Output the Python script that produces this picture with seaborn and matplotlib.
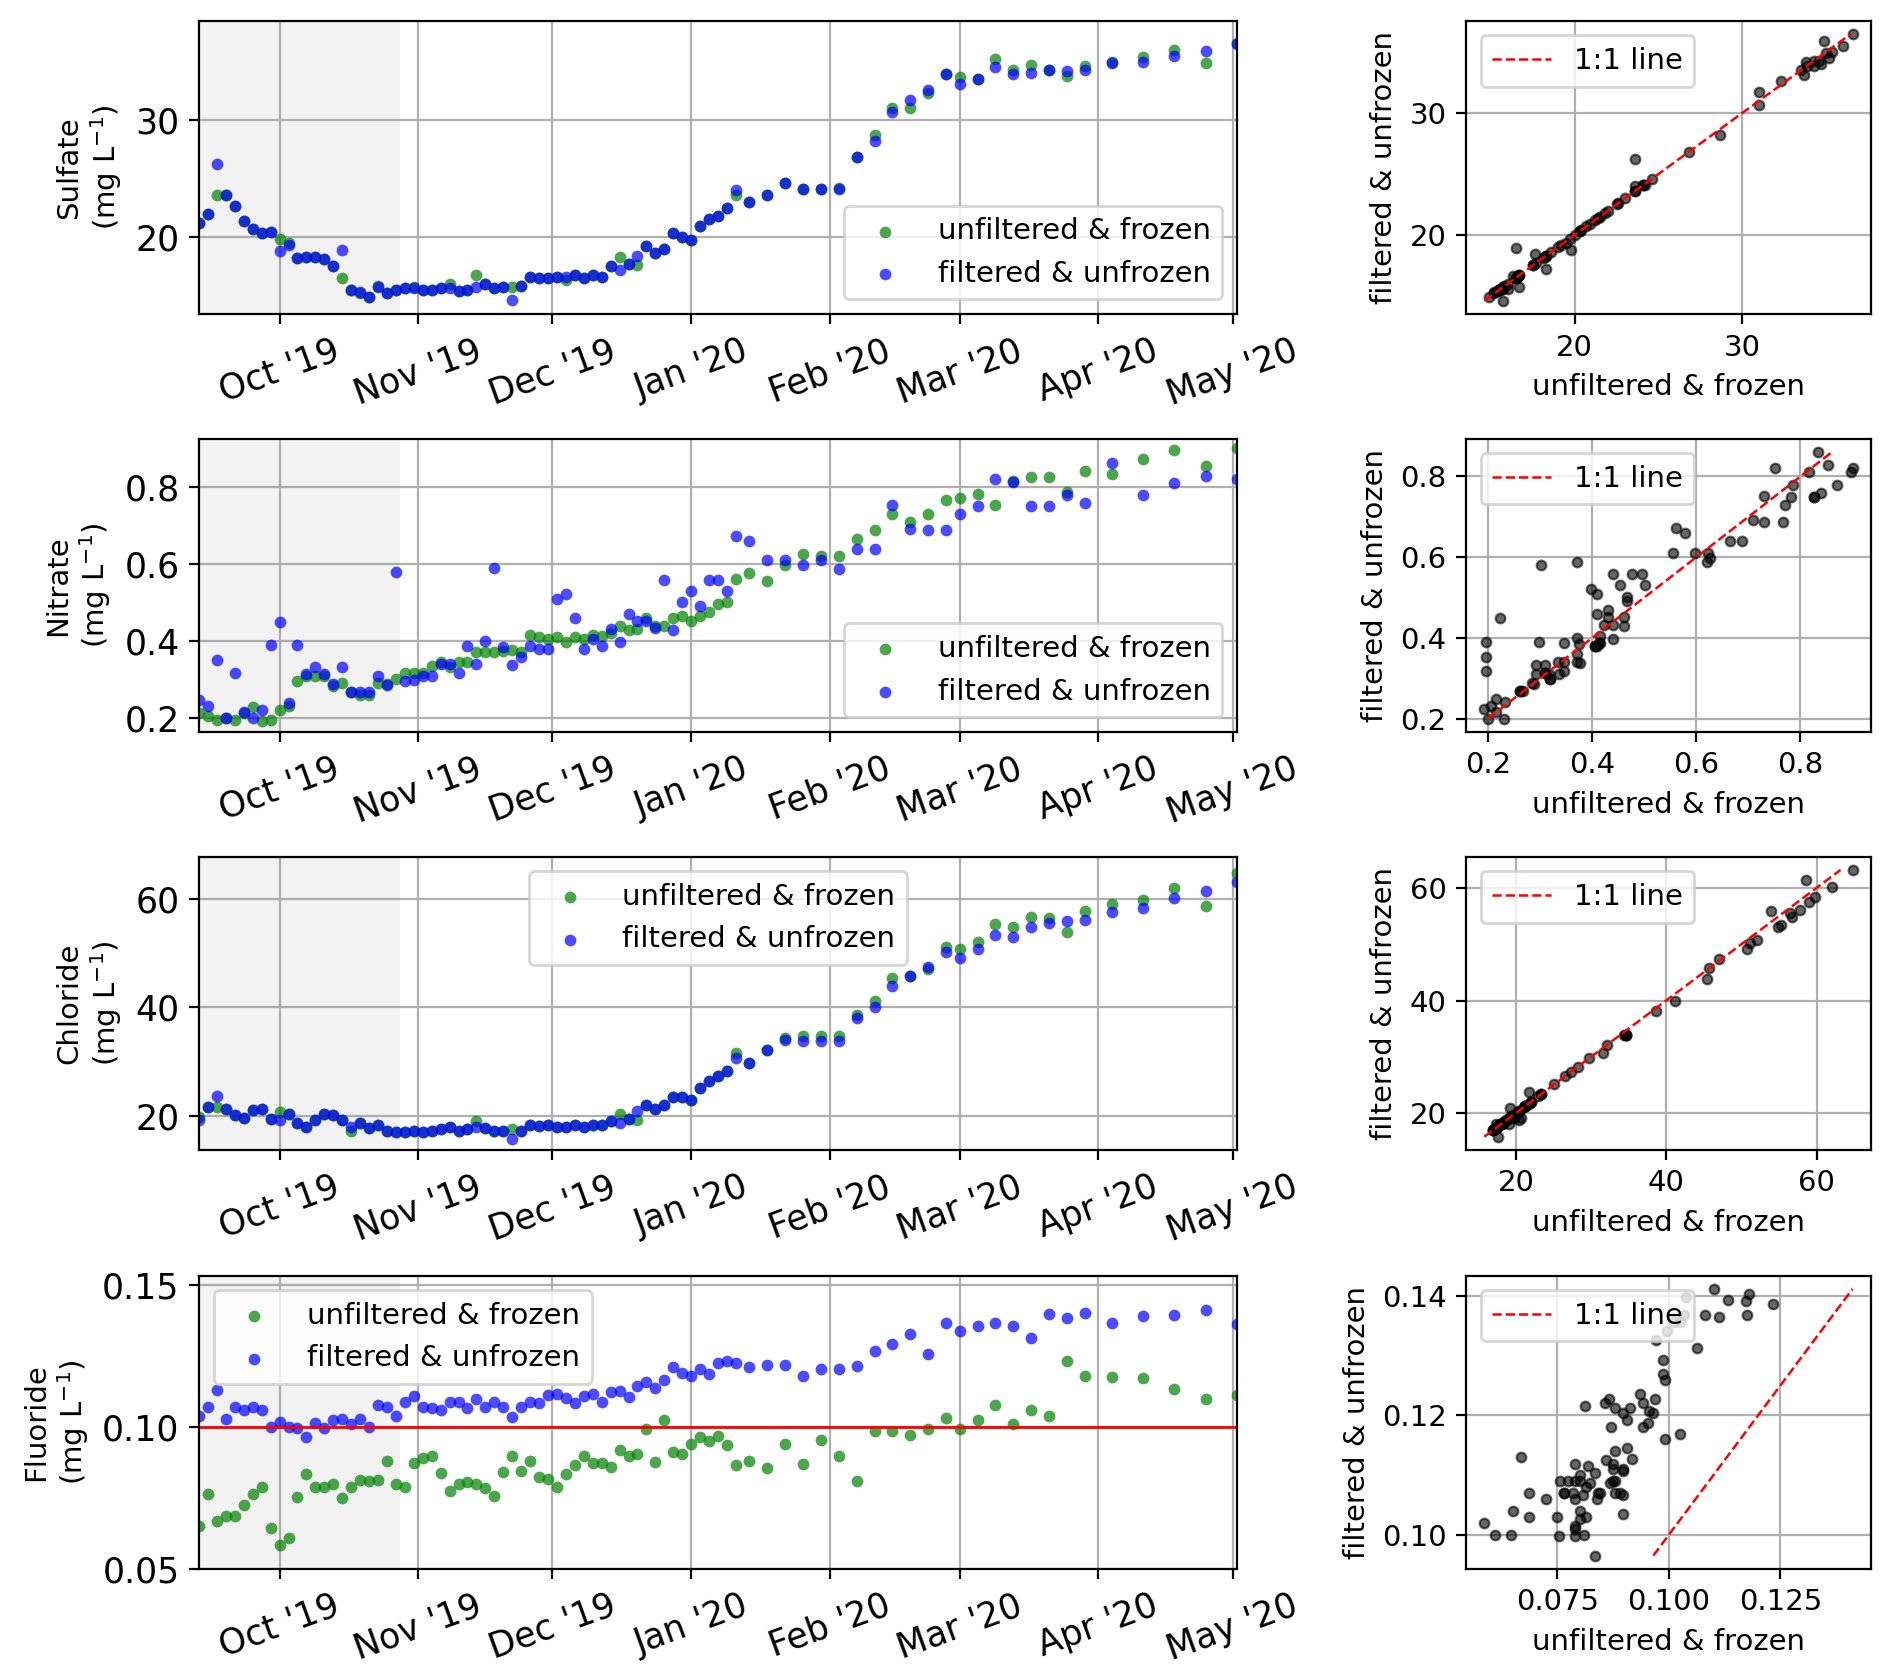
import numpy as np
import pandas as pd
import seaborn as sns
import matplotlib.pyplot as plt
import matplotlib.dates as mdates
from matplotlib.ticker import MultipleLocator

# sampling dates (days after the first sample)
start_date = "2019-09-13"
sample_day = [0, 2, 4, 6, 8, 10, 12, 14, 16, 18, 20, 22, 24, 26, 28, 30, 32, 34, 36, 38,
              40, 42, 44, 46, 48, 50, 52, 54, 56, 58, 60, 62, 64, 66, 68, 70, 72, 74, 76, 78,
              80, 82, 84, 86, 88, 90, 92, 94, 96, 98, 100, 102, 104, 106, 108, 110, 112, 114,
              116, 118, 120, 123, 127, 131, 135, 139, 143, 147, 151, 155, 159, 163, 167, 170,
              174, 178, 182, 186, 190, 194, 198, 204, 211, 218, 225, 232]
shade_end = "2019-10-28"
fluoride_limit = 0.10

# Sulfate
sulfate_uf = [21.2, 22.0, 23.6, 23.6, 22.6, 21.4, 20.7, 20.3, 20.4, 19.8, 19.5, 18.2, 18.3, 18.3,
              18.1, 17.5, 16.5, 15.5, 15.2, 14.9, 15.8, 15.2, 15.5, 15.6, 15.7, 15.5, 15.5, 15.6,
              16.0, 15.4, 15.5, 16.7, 16.0, 15.6, 15.7, 15.7, 15.8, 16.6, 16.5, 16.5, 16.6, 16.3,
              16.7, 16.5, 16.7, 16.6, 17.5, 18.3, 17.7, 17.6, 19.2, 18.6, 19.0, 20.3, 20.0, 19.7,
              20.9, 21.5, 21.8, 22.5, 23.6, 23.0, 23.6, 24.6, 24.1, 24.1, 24.2, 26.8, 28.7, 31.0,
              31.0, 32.3, 33.9, 33.7, 33.5, 35.2, 34.3, 34.7, 34.3, 33.8, 34.6, 35.0, 35.4, 36.0,
              34.9, 36.6]
sulfate_f = [21.2, 22.0, 26.2, 23.6, 22.6, 21.4, 20.7, 20.3, 20.4, 18.8, 19.3, 18.2, 18.3, 18.3,
             18.1, 17.5, 18.9, 15.5, 15.3, 14.9, 15.7, 15.2, 15.5, 15.6, 15.6, 15.5, 15.5, 15.6,
             15.6, 15.4, 15.5, 15.7, 16.0, 15.6, 15.7, 14.6, 15.8, 16.6, 16.5, 16.5, 16.6, 16.6,
             16.7, 16.5, 16.7, 16.6, 17.5, 17.2, 17.7, 18.4, 19.2, 18.6, 19.0, 20.3, 20.0, 19.7,
             20.9, 21.5, 21.8, 22.5, 24.0, 23.0, 23.6, 24.6, 24.1, 24.1, 24.1, 26.8, 28.2, 30.7,
             31.7, 32.6, 33.9, 33.1, 33.5, 34.5, 33.9, 34.0, 34.3, 34.2, 34.3, 34.9, 35.0, 35.5,
             35.9, 36.5]

# Nitrate
nitrate_uf = [0.215, 0.206, 0.197, 0.200, 0.197, 0.215, 0.230, 0.193, 0.197, 0.223, 0.232, 0.297,
              0.310, 0.310, 0.310, 0.284, 0.293, 0.268, 0.262, 0.262, 0.293, 0.288, 0.301, 0.319,
              0.319, 0.317, 0.336, 0.346, 0.334, 0.345, 0.345, 0.371, 0.371, 0.371, 0.375, 0.377,
              0.371, 0.416, 0.410, 0.405, 0.410, 0.398, 0.410, 0.405, 0.416, 0.414, 0.422, 0.440,
              0.430, 0.431, 0.461, 0.440, 0.440, 0.461, 0.466, 0.453, 0.466, 0.476, 0.496, 0.502,
              0.561, 0.578, 0.555, 0.597, 0.626, 0.622, 0.620, 0.665, 0.687, 0.730, 0.708, 0.730,
              0.767, 0.771, 0.782, 0.752, 0.816, 0.825, 0.825, 0.786, 0.840, 0.834, 0.871, 0.896,
              0.853, 0.900]
nitrate_f = [0.248, 0.232, 0.352, 0.200, 0.319, 0.216, 0.200, 0.223, 0.390, 0.450, 0.240, 0.390,
             0.314, 0.334, 0.314, 0.288, 0.332, 0.268, 0.268, 0.268, 0.310, 0.286, 0.580, 0.297,
             0.299, 0.310, 0.310, 0.340, 0.340, 0.317, 0.388, 0.340, 0.400, 0.589, 0.384, 0.338,
             0.360, 0.388, 0.379, 0.379, 0.509, 0.522, 0.460, 0.379, 0.405, 0.388, 0.431, 0.398,
             0.470, 0.453, 0.453, 0.433, 0.559, 0.430, 0.502, 0.531, 0.492, 0.559, 0.559, 0.531,
             0.672, 0.659, 0.611, 0.611, 0.597, 0.611, 0.587, 0.639, 0.639, 0.752, 0.691, 0.688,
             0.688, 0.730, 0.750, 0.821, 0.812, 0.750, 0.750, 0.779, 0.758, 0.861, 0.779, 0.810,
             0.829, 0.821]

# Chloride
chloride_uf = [19.8, 21.7, 21.7, 21.2, 20.1, 19.7, 21.1, 21.2, 19.5, 20.7, 20.4, 18.6, 18.0, 19.2,
               20.4, 20.1, 19.2, 17.3, 18.7, 17.8, 18.3, 17.3, 17.0, 17.0, 17.3, 17.0, 17.3, 17.5,
               18.0, 17.3, 17.5, 19.1, 17.8, 17.3, 17.3, 17.6, 17.3, 18.3, 18.1, 18.3, 18.0, 18.0,
               18.3, 18.0, 18.3, 18.3, 19.1, 20.4, 19.5, 19.2, 22.0, 21.2, 22.0, 23.4, 23.4, 23.0,
               25.1, 26.5, 27.3, 28.2, 31.6, 29.7, 32.1, 34.4, 34.7, 34.7, 34.7, 38.6, 41.2, 45.4,
               45.7, 47.0, 51.1, 50.8, 52.1, 55.3, 54.9, 56.7, 56.5, 53.9, 57.8, 59.0, 59.8, 62.0,
               58.6, 64.8]
chloride_f = [19.2, 21.7, 23.7, 21.2, 20.1, 19.7, 21.1, 21.2, 19.5, 19.2, 20.4, 18.6, 18.0, 19.2,
              20.4, 20.1, 19.2, 18.0, 18.7, 17.8, 18.3, 17.3, 17.0, 17.0, 17.3, 17.0, 17.3, 17.5,
              18.0, 17.3, 17.5, 18.0, 17.8, 17.3, 17.3, 15.8, 17.3, 18.3, 18.1, 18.3, 18.0, 18.0,
              18.3, 18.0, 18.3, 18.3, 19.1, 18.7, 19.5, 20.9, 22.0, 21.2, 22.0, 23.4, 23.4, 23.0,
              25.1, 26.5, 27.3, 28.2, 30.7, 29.7, 32.1, 33.9, 33.8, 33.8, 33.8, 38.1, 40.0, 43.9,
              45.7, 47.4, 50.2, 49.1, 50.8, 53.4, 53.0, 54.9, 55.5, 55.9, 56.1, 57.5, 58.4, 60.2,
              61.5, 63.2]

# Fluoride
fluoride_uf = [0.0650, 0.0765, 0.0668, 0.0686, 0.0686, 0.0725, 0.0765, 0.0790, 0.0645, 0.0586,
               0.0610, 0.0753, 0.0835, 0.0790, 0.0790, 0.0800, 0.0750, 0.0790, 0.0815, 0.0810,
               0.0815, 0.0880, 0.0800, 0.0790, 0.0874, 0.0890, 0.0898, 0.0839, 0.0774, 0.0800,
               0.0807, 0.0800, 0.0786, 0.0756, 0.0842, 0.0898, 0.0845, 0.0880, 0.0824, 0.0819,
               0.0790, 0.0835, 0.0868, 0.0898, 0.0874, 0.0874, 0.0859, 0.0918, 0.0898, 0.0906,
               0.0992, 0.0878, 0.1024, 0.0913, 0.0906, 0.0941, 0.0965, 0.0953, 0.0968, 0.0936,
               0.0866, 0.0880, 0.0856, 0.0941, 0.0871, 0.0956, 0.0898, 0.0812, 0.0986, 0.0986,
               0.0972, 0.0992, 0.1033, 0.0995, 0.1024, 0.1080, 0.1012, 0.1062, 0.1039, 0.1233,
               0.1180, 0.1176, 0.1172, 0.1133, 0.1101, 0.1113]
fluoride_f = [0.1040, 0.1070, 0.1130, 0.1030, 0.1070, 0.1060, 0.1070, 0.1060, 0.1000, 0.1020,
              0.1000, 0.0998, 0.0965, 0.1015, 0.0998, 0.1027, 0.1030, 0.1010, 0.1030, 0.1000,
              0.1080, 0.1070, 0.1040, 0.1090, 0.1110, 0.1070, 0.1066, 0.1060, 0.1090, 0.1090,
              0.1066, 0.1100, 0.1070, 0.1090, 0.1070, 0.1035, 0.1070, 0.1090, 0.1086, 0.1115,
              0.1118, 0.1104, 0.1086, 0.1110, 0.1118, 0.1090, 0.1125, 0.1127, 0.1106, 0.1145,
              0.1160, 0.1140, 0.1168, 0.1212, 0.1192, 0.1180, 0.1204, 0.1188, 0.1227, 0.1235,
              0.1227, 0.1212, 0.1221, 0.1221, 0.1180, 0.1207, 0.1204, 0.1215, 0.1270, 0.1292,
              0.1327, 0.1259, 0.1368, 0.1341, 0.1356, 0.1368, 0.1356, 0.1313, 0.1398, 0.1386,
              0.1404, 0.1368, 0.1392, 0.1394, 0.1412, 0.1365]

ions = ["Sulfate", "Nitrate", "Chloride", "Fluoride"]
unfiltered = [sulfate_uf, nitrate_uf, chloride_uf, fluoride_uf]
filtered = [sulfate_f, nitrate_f, chloride_f, fluoride_f]
ts_ylims = [(13.4, 38.5), (0.165, 0.925), (13.7, 67.8), (0.05, 0.1535)]
ts_step = [10, 0.2, 20, 0.05]
sc_step = [(10, 10), (0.2, 0.2), (20, 20), (0.025, 0.02)]
legend_loc = ["lower right", "lower right", "upper center", "upper left"]

sns.set_style("ticks", {"axes.edgecolor": "black", "xtick.color": "black",
                        "ytick.color": "black", "text.color": "black",
                        "axes.labelcolor": "black"})
plt.rcParams["font.family"] = ["DejaVu Sans"]

dates = pd.to_datetime(start_date) + pd.to_timedelta(sample_day, unit="D")

fig = plt.figure(figsize=(9.46, 8.375), dpi=200)
bottoms = [0.8125, 0.5630, 0.3134, 0.0633]
height = 0.1752

for i, ion in enumerate(ions):
    df = pd.DataFrame({"date": dates, "uf": unfiltered[i], "f": filtered[i]})

    # time series
    ax = fig.add_axes([0.1052, bottoms[i], 0.5486, height])
    ax.axvspan(dates[0], pd.to_datetime(shade_end), color="gray", alpha=0.1, lw=0)
    sns.scatterplot(data=df, x="date", y="uf", ax=ax, color="green", alpha=0.7,
                    s=18, linewidth=0, label="unfiltered & frozen")
    sns.scatterplot(data=df, x="date", y="f", ax=ax, color="blue", alpha=0.7,
                    s=18, linewidth=0, label="filtered & unfrozen")
    if ion == "Fluoride":
        ax.axhline(fluoride_limit, color="red", lw=1)
    ax.set_xlim(dates[0], dates[-1])
    ax.set_ylim(ts_ylims[i])
    ax.yaxis.set_major_locator(MultipleLocator(ts_step[i]))
    ax.xaxis.set_major_locator(mdates.MonthLocator())
    ax.xaxis.set_major_formatter(mdates.DateFormatter("%b '%y"))
    ax.grid(True, color="#b0b0b0", lw=0.8)
    ax.tick_params(labelsize=12.5)
    for lab in ax.get_xticklabels():
        lab.set_rotation(20)
        lab.set_ha("center")
    ax.set_xlabel("")
    ax.set_ylabel(ion + "\n(mg L$^{-1}$)", fontsize=10.5)
    ax.legend(loc=legend_loc[i], fontsize=10.5)

    # filtered vs unfiltered scatter
    ax2 = fig.add_axes([0.7748, bottoms[i], 0.2141, height])
    sns.scatterplot(data=df, x="uf", y="f", ax=ax2, color="black", alpha=0.6,
                    s=12, edgecolor="black", linewidth=0.8)
    lo, hi = min(filtered[i]), max(filtered[i])
    ax2.plot([lo, hi], [lo, hi], "r--", lw=0.9, label="1:1 line")
    ax2.xaxis.set_major_locator(MultipleLocator(sc_step[i][0]))
    ax2.yaxis.set_major_locator(MultipleLocator(sc_step[i][1]))
    ax2.grid(True, color="#b0b0b0", lw=0.8)
    ax2.tick_params(labelsize=10.5)
    ax2.set_xlabel("unfiltered & frozen", fontsize=10.5)
    ax2.set_ylabel("filtered & unfrozen", fontsize=10.5)
    ax2.legend(loc="upper left", fontsize=10.5)

fig.savefig("out.png", dpi=200)
